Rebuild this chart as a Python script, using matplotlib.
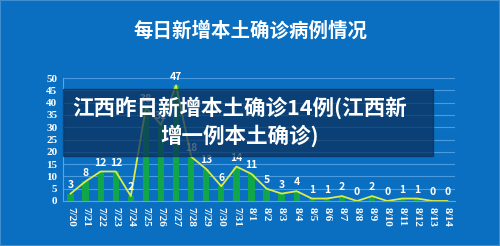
import matplotlib
matplotlib.use('Agg')
from matplotlib import pyplot as plt
from matplotlib.patches import Rectangle

plt.rcParams['font.family'] = ['Noto Sans CJK SC', 'DejaVu Sans']

# Data
dates = ['7/20', '7/21', '7/22', '7/23', '7/24', '7/25', '7/26', '7/27', '7/28',
         '7/29', '7/30', '7/31', '8/1', '8/2', '8/3', '8/4', '8/5', '8/6', '8/7',
         '8/8', '8/9', '8/10', '8/11', '8/12', '8/13', '8/14']
cases = [3, 8, 12, 12, 2, 38, 31, 47, 18, 13, 6, 14, 11, 5, 3, 4, 1, 1, 2,
         0, 2, 0, 1, 1, 0, 0]
title = '每日新增本土确诊病例情况'
caption = '江西昨日新增本土确诊14例(江西新\n增一例本土确诊)'

bg = '#0a6fc0'
fig = plt.figure(figsize=(5, 2.46), dpi=100, facecolor=bg)
ax = fig.add_axes([63 / 500, 45 / 246, 392 / 500, 123 / 246])
ax.set_facecolor(bg)

x = list(range(len(dates)))
ax.bar(x, cases, width=0.42, color='#12a64a', zorder=2)
ax.plot(x, cases, color='#d8ec4a', lw=1.3, zorder=3)
for i, v in enumerate(cases):
    ax.text(i, v + 1.5, str(v), color='white', fontsize=7.5, fontweight='bold',
            ha='center', va='bottom', zorder=4)

ax.set_xlim(-0.5, len(dates) - 0.5)
ax.set_ylim(0, 50)
ax.set_yticks(range(0, 51, 5))
ax.set_xticks(x)
ax.set_xticklabels(dates, rotation=-90, fontsize=8, color='white',
                   family='Liberation Serif', fontweight='bold')
ax.set_yticklabels([str(t) for t in range(0, 51, 5)], fontsize=8, color='white',
                   family='Liberation Serif', fontweight='bold')
ax.tick_params(length=0, pad=4)
ax.grid(axis='y', color='#4b9be0', lw=0.8, zorder=1)
for s in ['top', 'right']:
    ax.spines[s].set_visible(False)
for s in ['left', 'bottom']:
    ax.spines[s].set_color('#5ba4e4')

# Title
fig.text(0.5, 1 - 31 / 246, title, color='white', fontsize=14,
         fontweight='bold', ha='center', va='center')

# Caption overlay
fig.patches.append(Rectangle((63 / 500, 1 - 156 / 246), 370 / 500, 67 / 246,
                             transform=fig.transFigure, color='#0a2f5a',
                             alpha=0.72, zorder=5))
fig.text(240 / 500, 1 - 122 / 246, caption, color='white', fontsize=15.5,
         fontweight='bold', ha='center', va='center', linespacing=1.3,
         zorder=6)

# thin frame around the picture
fig.patches.append(Rectangle((0, 0), 1, 1, transform=fig.transFigure,
                             fill=False, edgecolor='#3f8fd0', lw=1.5, zorder=7))

fig.savefig('out.png', dpi=100, facecolor=bg)
